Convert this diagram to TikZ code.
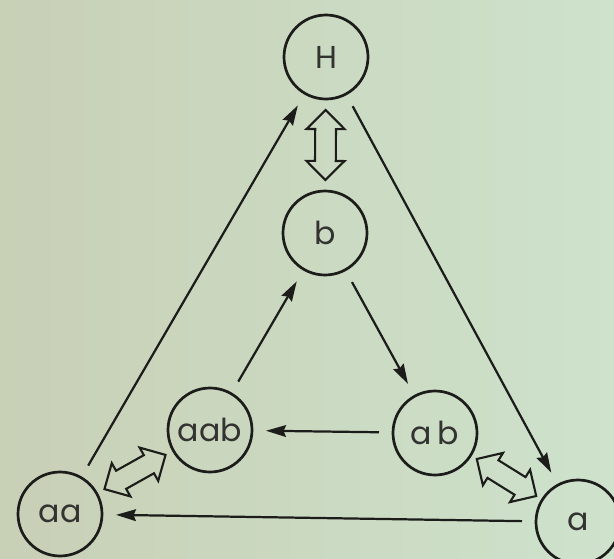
\documentclass[tikz,border=0pt]{standalone}
\usepackage{fontspec}
\newfontfamily\lblfont{Poppins}
\usetikzlibrary{arrows.meta,shapes.arrows}
\definecolor{paper}{RGB}{200,208,182}
\definecolor{paperR}{RGB}{206,226,204}
\definecolor{ink}{RGB}{28,28,26}
\tikzset{
  st/.style={draw=ink,circle,minimum size=2.52cm,inner sep=0pt,line width=2.3pt,
    text=ink!90,font=\lblfont\fontsize{27}{30}\selectfont},
  tr/.style={draw=ink,line width=1.9pt,-{Stealth[length=17pt,width=10pt,inset=2pt]},
    shorten <=0.38cm,shorten >=0.38cm},
  eq/.style={draw=ink,double arrow,line width=1.8pt,minimum height=2.1cm,
    inner xsep=0pt,inner ysep=0.28cm,double arrow head extend=0.26cm,
    sloped,midway}
}
\begin{document}
\begin{tikzpicture}[x=0.03cm,y=-0.03cm]
\fill[left color=paper,right color=paperR] (0,0) rectangle (614,558);
\useasboundingbox (0,0) rectangle (614,558);
% states
\node[st] (H) at (326,57) {H};
\node[st] (b) at (325,233) {b};
\node[st] (aab) at (210,430) {aab};
\node[st] (ab) at (435,433) {a\,b};
\node[st] (aa) at (60,514) {aa};
\node[st] (a) at (578,522) {a};
% transitions
\draw[tr] (aa) -- (H);
\draw[tr] (H) -- (a);
\draw[tr] (b) -- (ab);
\draw[tr] (ab) -- (aab);
\draw[tr] (aab) -- (b);
\draw[tr] (a) -- (aa);
% equivalences
\path (H) -- (b) node[eq] {};
\path (aa) -- (aab) node[eq] {};
\path (ab) -- (a) node[eq] {};
\end{tikzpicture}
\end{document}
